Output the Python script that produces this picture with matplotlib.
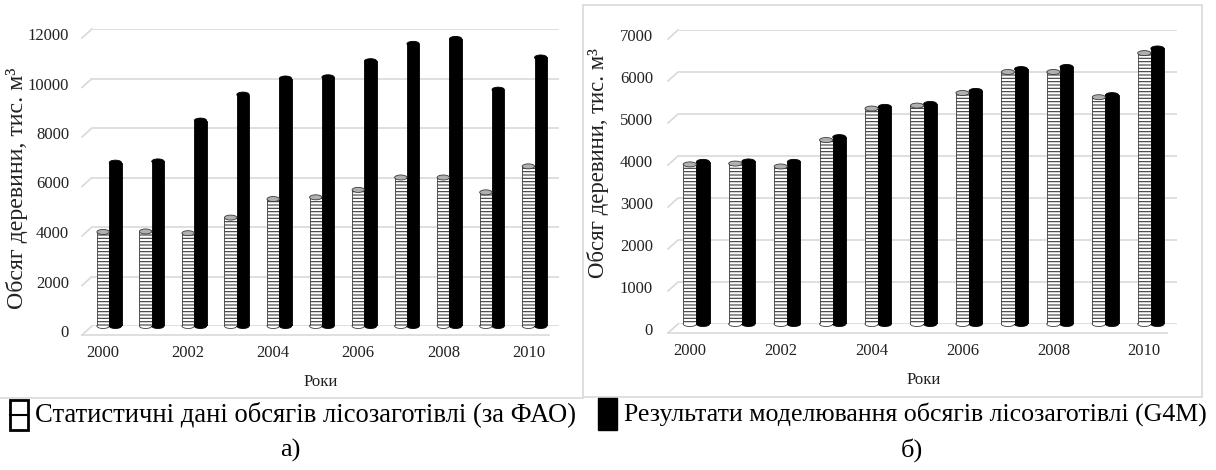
import matplotlib
matplotlib.use('Agg')
import matplotlib.pyplot as plt
import matplotlib.transforms as mtransforms
from matplotlib.patches import Rectangle, Ellipse
from matplotlib.lines import Line2D
import numpy as np

# ---------------- data ----------------
years = [2000, 2001, 2002, 2003, 2004, 2005, 2006, 2007, 2008, 2009, 2010]
fao_stat = [3800, 3820, 3750, 4380, 5130, 5200, 5500, 6000, 6000, 5400, 6450]
g4m_left = [6600, 6650, 8300, 9350, 10000, 10050, 10700, 11400, 11600, 9550, 10850]
g4m_right = [3860, 3870, 3860, 4450, 5170, 5240, 5550, 6070, 6120, 5450, 6560]
left_yticks = [0, 2000, 4000, 6000, 8000, 10000, 12000]
right_yticks = [0, 1000, 2000, 3000, 4000, 5000, 6000, 7000]
xtick_years = [2000, 2002, 2004, 2006, 2008, 2010]
ylabel_text = "Обсяг деревини, тис. м³"
xlabel_text = "Роки"
legend_fao = "Статистичні дані обсягів лісозаготівлі (за ФАО)"
legend_g4m = "Результати моделювання обсягів лісозаготівлі (G4M)"
panel_a = "а)"
panel_b = "б)"

W, H = 1216, 470
DPI = 100
plt.rcParams['font.family'] = ['Liberation Serif', 'DejaVu Serif']
plt.rcParams['hatch.linewidth'] = 0.8
fig = plt.figure(figsize=(W / DPI, H / DPI), dpi=DPI)


def px_ax(x0, y_top, x1, y_bot):
    return [x0 / W, 1 - y_bot / H, (x1 - x0) / W, (y_bot - y_top) / H]


def to_fig(ax, x, y, dx=0, dy=0):
    px, py = ax.transData.transform((x, y))
    return (px + dx) / W, (py + dy) / H


GRID = '#d9d9d9'
BW = 0.29
XLIM = (-0.26, 10.72)


def draw_panel(rect, fao, g4m, yticks, ymax, ypad):
    ax = fig.add_axes(rect)
    idx = np.arange(len(years))
    ax.bar(idx, fao, width=BW, color='white', edgecolor='#3a3a3a',
           hatch='-----', linewidth=0.6, zorder=3)
    ax.bar(idx + BW, g4m, width=BW, color='black', edgecolor='black',
           linewidth=0.6, zorder=3)
    ax.set_xlim(*XLIM)
    ax.set_ylim(0, ymax)
    # cylinder caps (ellipses at top and bottom of every bar)
    ax_h_px = rect[3] * H
    eh = ymax / ax_h_px * 5.0
    for i in idx:
        ax.add_patch(Ellipse((i, fao[i]), BW, eh, facecolor='#b0b0b0',
                             edgecolor='#3a3a3a', linewidth=0.6, zorder=4, clip_on=False))
        ax.add_patch(Ellipse((i, 0), BW, eh, facecolor='white',
                             edgecolor='#3a3a3a', linewidth=0.6, zorder=2.9, clip_on=False))
        ax.add_patch(Ellipse((i + BW, g4m[i]), BW, eh, facecolor='black',
                             edgecolor='black', linewidth=0.6, zorder=4, clip_on=False))
        ax.add_patch(Ellipse((i + BW, 0), BW, eh, facecolor='black',
                             edgecolor='black', linewidth=0.6, zorder=2.9, clip_on=False))
    ax.set_yticks(yticks)
    ax.set_yticklabels([str(v) for v in yticks])
    ax.set_xticks([years.index(y) for y in xtick_years])
    ax.set_xticklabels([str(y) for y in xtick_years])
    ax.tick_params(axis='both', length=0, labelsize=12, labelcolor='#222222')
    ax.tick_params(axis='x', pad=14)
    ax.tick_params(axis='y', pad=ypad)
    for lab in ax.get_yticklabels():
        lab.set_transform(lab.get_transform() +
                          mtransforms.ScaledTranslation(0, -0.05, fig.dpi_scale_trans))
    ax.grid(axis='y', color=GRID, linewidth=1.2, zorder=0)
    ax.set_axisbelow(True)
    for s in ax.spines.values():
        s.set_visible(False)
    # 3D floor/wall hints: short diagonals at left end of each gridline and a front floor edge
    xl = ax.get_xlim()[0]
    for v in yticks:
        x0, y0 = to_fig(ax, xl, v, -10, -9)
        x1, y1 = to_fig(ax, xl, v, 0, 0)
        fig.add_artist(Line2D([x0, x1], [y0, y1], transform=fig.transFigure,
                              color=GRID, linewidth=1.2, zorder=0))
    x0, y0 = to_fig(ax, xl, 0, -10, -9)
    x1, y1 = to_fig(ax, ax.get_xlim()[1], 0, -10, -9)
    fig.add_artist(Line2D([x0, x1], [y0, y0], transform=fig.transFigure,
                          color=GRID, linewidth=1.2, zorder=0))
    return ax


axL = draw_panel(px_ax(92, 29, 559, 326), fao_stat, g4m_left, left_yticks, 12000, 16.5)
axR = draw_panel(px_ax(678, 30, 1177, 324), fao_stat, g4m_right, right_yticks, 7000, 18)


def ftext(x, y, s, **kw):
    return fig.text(x / W, 1 - y / H, s, **kw)


ylL = ftext(17, 188, ylabel_text, rotation=90, ha='center', va='center', fontsize=16, color='#222222')
ylR = ftext(598, 163, ylabel_text, rotation=90, ha='center', va='center', fontsize=16, color='#222222')
ftext(321, 382, xlabel_text, ha='center', va='center', fontsize=12, color='#222222')
ftext(924, 380, xlabel_text, ha='center', va='center', fontsize=12, color='#222222')

# panel frames
fig.add_artist(Rectangle((583 / W, 1 - 397 / H), (1202 - 583) / W, (397 - 5) / H,
                         transform=fig.transFigure, fill=False, edgecolor=GRID, linewidth=1.2))
fig.add_artist(Line2D([0, 583 / W], [1 - 398 / H, 1 - 398 / H], transform=fig.transFigure,
                      color=GRID, linewidth=1.2))

# legend
fig.add_artist(Rectangle((10 / W, 1 - 430 / H), 18 / W, 30 / H, transform=fig.transFigure,
                         facecolor='white', edgecolor='black', linewidth=2))
fig.add_artist(Line2D([10 / W, 28 / W], [1 - 415 / H, 1 - 415 / H], transform=fig.transFigure,
                      color='black', linewidth=1.5))
fig.add_artist(Rectangle((598 / W, 1 - 430 / H), 19 / W, 32 / H, transform=fig.transFigure,
                         facecolor='black', edgecolor='black', linewidth=1))

tL = ftext(35, 414, legend_fao, ha='left', va='center', fontsize=19, color='black')
tR = ftext(624, 414, legend_g4m, ha='left', va='center', fontsize=19, color='black')

# fit text extents to the reference's
fig.canvas.draw()
r = fig.canvas.get_renderer()
for t, target in ((tL, 578 - 35), (tR, 1210 - 624)):
    w = t.get_window_extent(r).width
    t.set_fontsize(19 * target / w)
for t, target in ((ylL, 242), (ylR, 230)):
    h = t.get_window_extent(r).height
    t.set_fontsize(16 * target / h)

ftext(290, 450, panel_a, ha='center', va='center', fontsize=19, color='black')
ftext(912, 450, panel_b, ha='center', va='center', fontsize=19, color='black')

fig.savefig('out.png', dpi=DPI, facecolor='white')
